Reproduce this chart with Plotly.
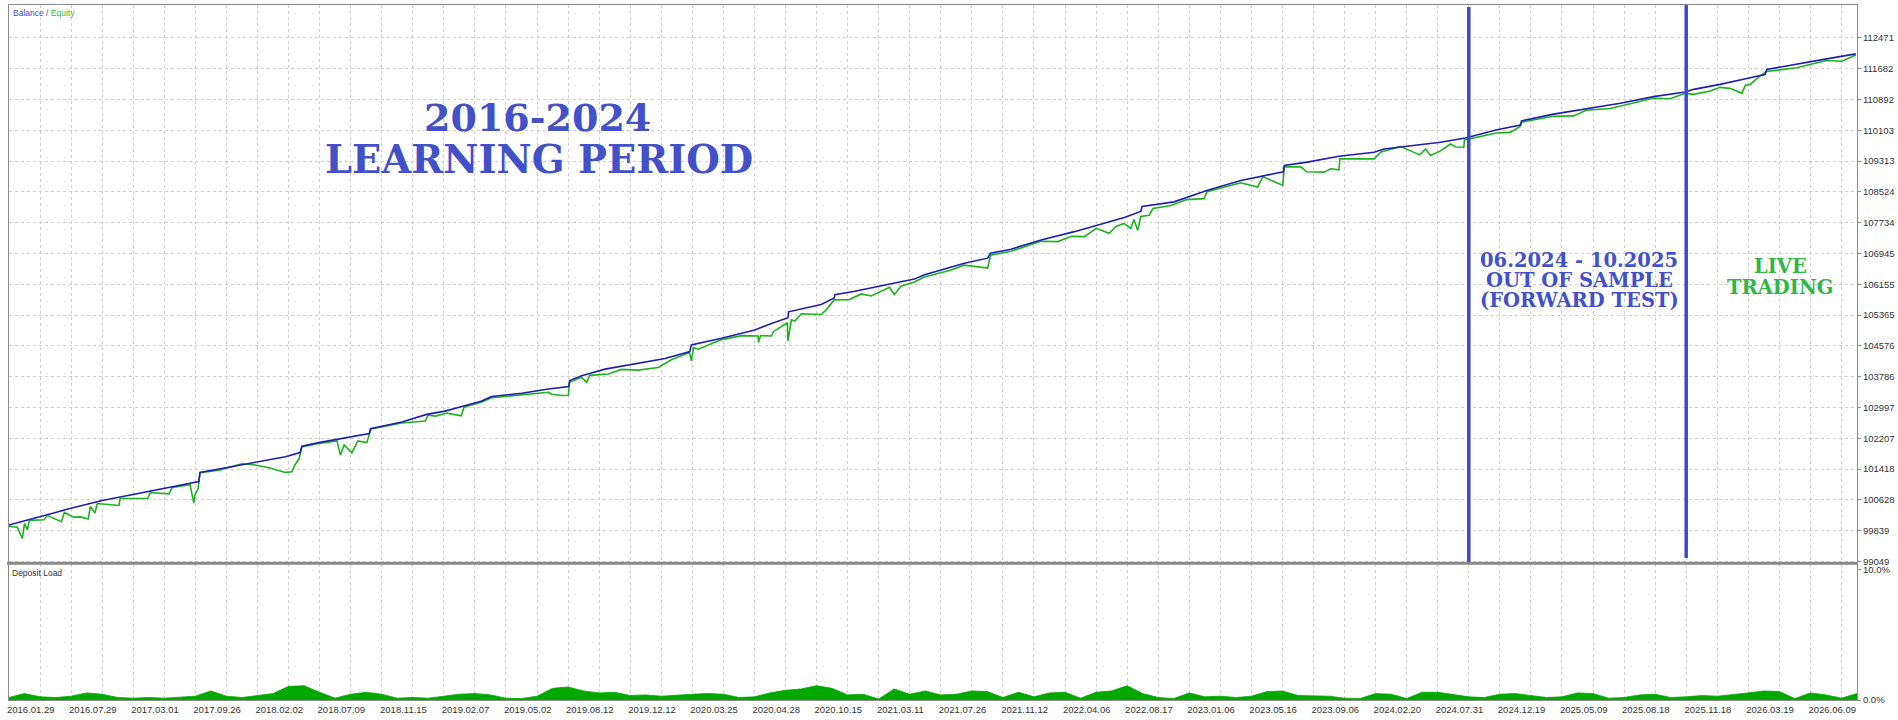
import plotly.graph_objects as go

# ---------------- data ----------------
date_labels = ["2016.01.29", "2016.07.29", "2017.03.01", "2017.09.26", "2018.02.02",
               "2018.07.09", "2018.11.15", "2019.02.07", "2019.05.02", "2019.08.12",
               "2019.12.12", "2020.03.25", "2020.04.28", "2020.10.15", "2021.03.11",
               "2021.07.26", "2021.11.12", "2022.04.06", "2022.08.17", "2023.01.06",
               "2023.05.16", "2023.09.06", "2024.02.20", "2024.07.31", "2024.12.19",
               "2025.05.09", "2025.08.18", "2025.11.18", "2026.03.19", "2026.06.09"]

balance_ticks = [99049, 99839, 100628, 101418, 102207, 102997, 103786, 104576, 105365,
                 106155, 106945, 107734, 108524, 109313, 110103, 110892, 111682, 112471]

balance_x = [-10, -1.4, 5.0, 9.3, 15.8, 20.0, 25.4, 30.7, 36.1, 41.5, 47.9, 51.1, 51.5, 57.6,
             62.9, 68.3, 73.6, 79.0, 83.7, 84.3, 89.7, 95.0, 100.4, 106.0, 106.4, 111.1, 116.5,
             124.5, 130.4, 135.8, 142.0, 145.4, 155.1, 163.7, 170.2, 170.5, 174.4, 181.9, 192.6,
             201.2, 209.2, 209.7, 219.4, 230.1, 235.5, 240.8, 241.0, 246.2, 251.5, 255.7, 255.9,
             262.3, 273.0, 281.5, 284.8, 293.1, 297.6, 305.1, 306.0, 312.6, 322.3, 333.0, 343.7,
             349.1, 354.4, 354.8, 365.1, 369.5, 375.9, 386.6, 392.0, 400.3, 400.6, 408.0, 418.2,
             429.5, 432.7, 444.2, 450.9, 458.9, 469.1, 476.6, 477.0, 487.3, 498.1, 508.8, 519.5,
             529.7, 532.4, 540.9, 550.6, 555.4, 555.9, 564.5, 575.2, 584.6]
balance_y = [99982, 100178, 100305, 100399, 100527, 100611, 100695, 100781, 100865, 100949,
             101051, 101095, 101331, 101418, 101502, 101586, 101647, 101731, 101841, 102004,
             102095, 102172, 102240, 102325, 102452, 102538, 102622, 102819, 102903, 103022,
             103157, 103277, 103361, 103471, 103532, 103685, 103812, 103980, 104133, 104252,
             104431, 104601, 104769, 104983, 105151, 105297, 105449, 105533, 105635, 105806,
             105890, 105977, 106145, 106290, 106399, 106588, 106697, 106825, 106952, 107054,
             107291, 107505, 107741, 107869, 108022, 108149, 108269, 108396, 108564, 108819,
             108905, 109040, 109201, 109287, 109440, 109542, 109626, 109728, 109797, 109906,
             110118, 110237, 110347, 110518, 110663, 110798, 110968, 111085, 111154, 111281,
             111452, 111536, 111663, 111791, 111936, 112063]

equity_points = [
    (-10, 99949), (-7.3, 99923), (-5.7, 99635), (-5.0, 100025), (-4.1, 99864), (-3.4, 100101),
    (1.3, 100119), (2.3, 100229), (6.9, 100068), (7.8, 100305), (10.9, 100185), (13.0, 100190),
    (15.5, 100134), (16.2, 100458), (17.7, 100287), (18.4, 100534), (25.4, 100483), (25.8, 100662),
    (34.7, 100669), (35.5, 100814), (41.5, 100781), (42.5, 100942), (48.3, 101018), (49.5, 100542),
    (49.9, 100763), (50.9, 100916), (51.5, 101324), (57.6, 101387), (65.0, 101553), (69.3, 101520),
    (73.6, 101451), (77.4, 101375), (79.0, 101331), (81.1, 101349), (82.1, 101527), (83.4, 101680),
    (84.3, 101986), (89.7, 102075), (95.6, 102139), (96.7, 101774), (97.9, 102037), (100.4, 101833),
    (102.3, 102139), (105.2, 102095), (105.9, 102291), (106.5, 102444), (116.5, 102597),
    (124.0, 102648), (124.9, 102801), (127.4, 102776), (131.0, 102852), (135.6, 102783),
    (136.5, 103004), (142.0, 103132), (145.4, 103247), (155.1, 103323), (163.7, 103387),
    (164.7, 103336), (168.0, 103303), (170.1, 103311), (170.5, 103642), (174.4, 103769),
    (176.0, 103642), (177.0, 103820), (183.0, 103853), (187.2, 103972), (192.6, 103955),
    (199.0, 104023), (203.4, 104227), (209.1, 104405), (209.7, 104194), (210.4, 104533),
    (211.9, 104489), (219.4, 104736), (225.9, 104838), (231.2, 104830), (231.3, 104660),
    (232.0, 104840), (235.5, 104830), (236.1, 104940), (240.6, 105169), (240.8, 104703),
    (241.9, 105245), (243.0, 105212), (245.1, 105398), (251.5, 105381), (253.1, 105500),
    (255.7, 105755), (260.6, 105763), (264.4, 105908), (267.6, 105857), (273.5, 106080),
    (275.0, 105890), (275.7, 105950), (277.3, 106112), (281.5, 106214), (284.7, 106341),
    (293.1, 106517), (297.5, 106646), (305.1, 106570), (306.0, 106901), (312.6, 107003),
    (319.1, 107181), (322.3, 107257), (327.7, 107250), (332.0, 107385), (336.3, 107377),
    (340.0, 107589), (344.2, 107461), (346.4, 107639), (349.0, 107716), (351.2, 107589),
    (352.2, 107818), (353.4, 107537), (354.4, 107894), (357.1, 107927), (358.3, 108098),
    (364.1, 108175), (369.2, 108327), (374.8, 108352), (375.7, 108531), (386.6, 108760),
    (392.0, 108651), (393.7, 108913), (400.1, 108691), (400.6, 109167), (405.9, 109167),
    (407.8, 109040), (413.4, 109032), (415.6, 109117), (418.2, 109091), (418.5, 109371),
    (429.5, 109371), (431.7, 109549), (438.1, 109689), (444.2, 109473), (446.1, 109626),
    (447.7, 109456), (450.9, 109575), (454.1, 109753), (455.7, 109677), (458.4, 109669),
    (458.6, 109855), (468.9, 110033), (473.4, 110051), (476.6, 110211), (477.0, 110313),
    (487.2, 110466), (493.7, 110474), (497.8, 110619), (505.5, 110663), (519.4, 110925),
    (524.8, 110912), (529.7, 111052), (532.4, 111026), (537.7, 111111), (540.9, 111205),
    (544.1, 111179), (547.9, 111052), (549.0, 111256), (550.6, 111281), (553.8, 111500),
    (555.9, 111613), (565.5, 111706), (575.2, 111892), (580.1, 111875), (584.6, 112033),
]
equity_x = [p[0] for p in equity_points]
equity_y = [p[1] for p in equity_points]

deposit_load = [0.2, 0.5, 0.25, 0.2, 0.3, 0.55, 0.45, 0.2, 0.15, 0.2,
                0.15, 0.2, 0.3, 0.7, 0.3, 0.2, 0.35, 0.5, 1.05, 1.1,
                0.6, 0.15, 0.45, 0.6, 0.45, 0.15, 0.2, 0.15, 0.3, 0.45,
                0.5, 0.4, 0.15, 0.12, 0.3, 0.9, 1.0, 0.7, 0.55, 0.6,
                0.35, 0.4, 0.3, 0.4, 0.45, 0.5, 0.45, 0.2, 0.25, 0.55,
                0.75, 0.85, 1.1, 0.9, 0.4, 0.45, 0.08, 0.85, 0.45, 0.7,
                0.4, 0.45, 0.7, 0.65, 0.2, 0.6, 0.25, 0.55, 0.6, 0.15,
                0.6, 0.7, 1.1, 0.5, 0.2, 0.12, 0.55, 0.25, 0.3, 0.2,
                0.3, 0.65, 0.7, 0.35, 0.35, 0.3, 0.15, 0.12, 0.5, 0.45,
                0.12, 0.6, 0.6, 0.4, 0.25, 0.2, 0.45, 0.5, 0.35, 0.2,
                0.25, 0.55, 0.5, 0.15, 0.2, 0.4, 0.45, 0.2, 0.25, 0.35,
                0.3, 0.4, 0.55, 0.7, 0.65, 0.12, 0.55, 0.4, 0.15, 0.5]
deposit_x = [-10 + 5 * i for i in range(len(deposit_load))]

oos_start = 460     # position of 06.2024 boundary
live_start = 530    # position of 10.2025 boundary

# ---------------- layout helpers ----------------
W, H = 1898, 720
def pxx(p):
    return p / W
def pxy(p):
    return 1 - p / H

X_RANGE = [-10, 585]
grid_vals = list(range(0, 590, 10))
LABEL_OFFSET = -3   # labels sit a little left of their grid line
label_vals = [20 * i + LABEL_OFFSET for i in range(len(date_labels))]

BLUE_TXT = "#4351C9"
GREEN_TXT = "#30B548"
GRID = "#CFCFCF"
AX = "#8C8C8C"
TICKFONT = dict(family="Liberation Sans, Arial, sans-serif", size=9.5, color="#333333")

fig = go.Figure()
fig.add_trace(go.Scatter(x=equity_x, y=equity_y, mode="lines",
                         line=dict(color="#1CB41C", width=1.6), xaxis="x", yaxis="y",
                         name="Equity"))
fig.add_trace(go.Scatter(x=balance_x, y=balance_y, mode="lines",
                         line=dict(color="#1E1EB4", width=1.6), xaxis="x", yaxis="y",
                         name="Balance"))
fig.add_trace(go.Scatter(x=deposit_x, y=deposit_load, mode="lines", fill="tozeroy",
                         fillcolor="#00A800", line=dict(color="#00A800", width=0.8),
                         xaxis="x2", yaxis="y2", name="Deposit Load"))

dom_x = [pxx(7), pxx(1857)]
fig.update_layout(
    width=W, height=H, autosize=False,
    margin=dict(l=0, r=0, t=0, b=0),
    paper_bgcolor="white", plot_bgcolor="white",
    showlegend=False,
    xaxis=dict(domain=dom_x, range=X_RANGE, anchor="y", tickvals=grid_vals,
               showticklabels=False, ticks="", showgrid=True, gridcolor=GRID,
               griddash="dot", gridwidth=1, zeroline=False, showline=True,
               mirror=True, linecolor=AX, linewidth=1),
    yaxis=dict(domain=[pxy(566.7), pxy(5)], range=[99014, 113318], anchor="x",
               side="right", tickvals=balance_ticks,
               ticktext=[str(v) for v in balance_ticks], tickfont=TICKFONT,
               ticks="outside", ticklen=3, tickcolor=AX, showgrid=True,
               gridcolor=GRID, griddash="dot", gridwidth=1, zeroline=False,
               showline=True, mirror=True, linecolor=AX, linewidth=1),
    xaxis2=dict(domain=dom_x, range=X_RANGE, anchor="y2", matches="x",
                tickvals=label_vals, ticktext=date_labels, tickfont=TICKFONT,
                ticks="", showgrid=False, zeroline=False, showline=True,
                mirror=True, linecolor=AX, linewidth=1, tickangle=0,
                minor=dict(tickvals=grid_vals, showgrid=True, gridcolor=GRID,
                           griddash="dot", gridwidth=1, ticks="")),
    yaxis2=dict(domain=[pxy(705), pxy(568)], range=[0, 10.4], anchor="x2",
                side="right", tickvals=[0, 10], ticktext=["0.0%", "10.0%"],
                tickfont=TICKFONT, ticks="outside", ticklen=3, tickcolor=AX,
                showgrid=False, zeroline=False, showline=True, mirror=True,
                linecolor=AX, linewidth=1),
)

shapes = [
    dict(type="line", xref="paper", yref="paper", x0=pxx(5), x1=pxx(1857),
         y0=pxy(567.2), y1=pxy(567.2), line=dict(color="#8A8A8A", width=3)),
    dict(type="line", xref="x", yref="paper", x0=oos_start, x1=oos_start,
         y0=pxy(566), y1=pxy(7), line=dict(color="#3F48CC", width=3.5)),
    dict(type="line", xref="x", yref="paper", x0=live_start, x1=live_start,
         y0=pxy(562), y1=pxy(5), line=dict(color="#3F48CC", width=3.5)),
]
fig.update_layout(shapes=shapes)

SERIF = "Georgia, DejaVu Serif, serif"
ann = []
def add_text(txt, cx, cy, size, color, family=SERIF, xanchor="center"):
    ann.append(dict(text=txt, x=pxx(cx), y=pxy(cy), xref="paper", yref="paper",
                    xanchor=xanchor, yanchor="middle", showarrow=False,
                    font=dict(family=family, size=size, color=color)))

add_text("<b>2016-2024</b>", 536, 118, 38, BLUE_TXT)
add_text("<b>LEARNING PERIOD</b>", 538, 161, 38.5, BLUE_TXT)
add_text("<b>06.2024 - 10.2025</b>", 1579, 262, 19.5, BLUE_TXT)
add_text("<b>OUT OF SAMPLE</b>", 1579, 282.5, 19.5, BLUE_TXT)
add_text("<b>(FORWARD TEST)</b>", 1579, 303, 19.5, BLUE_TXT)
add_text("<b>LIVE</b>", 1780, 268, 19.5, GREEN_TXT)
add_text("<b>TRADING</b>", 1780, 290, 19.5, GREEN_TXT)
add_text('<span style="color:#4646D6">Balance</span> / <span style="color:#33C433">Equity</span>',
         9, 13, 8.5, "#555555", family="Liberation Sans, Arial, sans-serif", xanchor="left")
add_text("Deposit Load", 8, 577, 8.5, "#333333",
         family="Liberation Sans, Arial, sans-serif", xanchor="left")
fig.update_layout(annotations=ann)

fig.write_html("out.html", config={"displayModeBar": False},
               post_script="document.body.style.margin='0px';document.body.style.overflow='hidden';")
